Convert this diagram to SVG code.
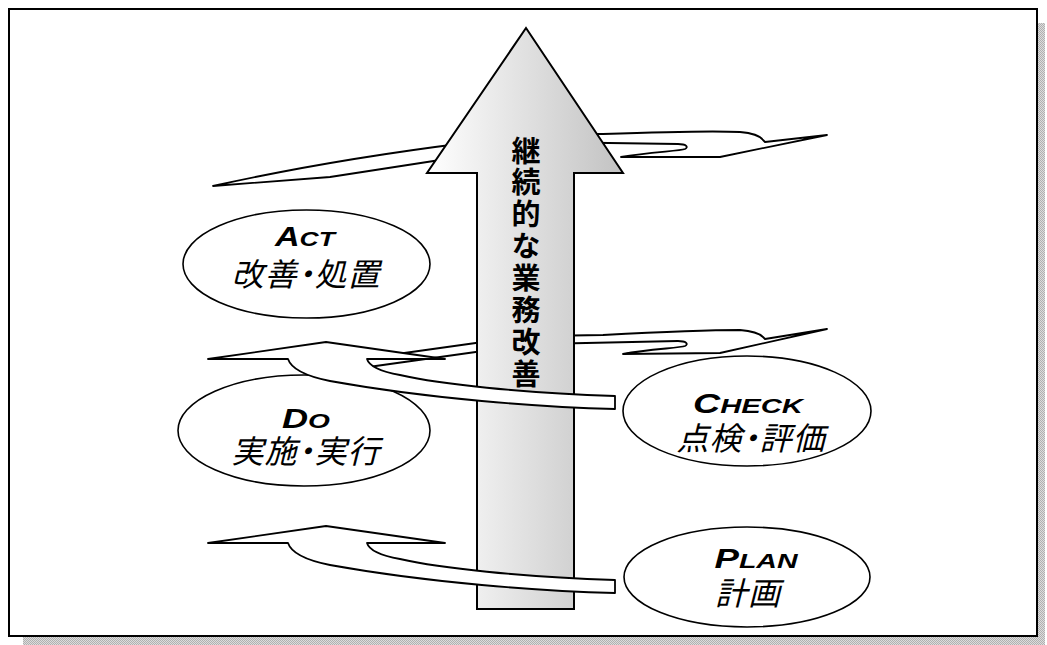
<svg xmlns="http://www.w3.org/2000/svg" width="1047" height="645" viewBox="0 0 1047 645">
<style>
.ln{fill:#fff;stroke:#000;stroke-width:1.8;stroke-linejoin:round}
.el{fill:#fff;stroke:#000;stroke-width:1.6}
.lat{font-family:"Liberation Sans",Arial,sans-serif;font-weight:bold;font-style:italic;font-size:27px;fill:#000;text-anchor:middle}
.sm{font-size:21px}
.jp{font-family:"Noto Sans CJK JP","Noto Sans CJK SC",sans-serif;font-style:italic;font-size:32px;fill:#000;text-anchor:middle;font-feature-settings:"palt";letter-spacing:1px}
.vt{font-family:"Noto Sans CJK JP","Noto Sans CJK SC",sans-serif;font-weight:bold;font-size:29px;fill:#000;writing-mode:vertical-rl;letter-spacing:2.9px}
</style>
<defs>
<linearGradient id="g" gradientUnits="userSpaceOnUse" x1="427" y1="0" x2="623" y2="0">
<stop offset="0" stop-color="#ffffff"/><stop offset="1" stop-color="#c2c2c2"/>
</linearGradient>
<pattern id="hatch" width="2" height="2" patternUnits="userSpaceOnUse">
<rect width="2" height="2" fill="#dcdcdc"/><rect width="1" height="1" fill="#b0b0b0"/><rect x="1" y="1" width="1" height="1" fill="#b0b0b0"/>
</pattern>
</defs>
<rect width="1047" height="645" fill="#fff"/>
<g id="frame">
<rect x="23" y="637" width="1022" height="8" fill="url(#hatch)"/>
<rect x="1038" y="23" width="7" height="622" fill="url(#hatch)"/>
<rect x="9" y="9" width="1028" height="627" fill="#fff" stroke="#000" stroke-width="2"/>
</g>
<g id="connectors-back">
<path class="ln" d="M 213,186 Q 330,160 466,143 L 466,156 L 330,177 Z"/>
<path class="ln" d="M 540,134 L 603,134 C 660,132 720,131 740,132 C 752,133 760,136 763,140 L 765,142 L 827,135 L 720,157 L 621,157 C 650,152 680,151 685,149 C 689,147 686,144 678,144 L 540,142 Z"/>
<path class="ln" d="M 340,362 L 490,341 L 490,350 L 340,371 Z"/>
<path class="ln" d="M 540,336 L 603,335 C 660,332 720,330 740,330 C 752,331 760,334 763,337 L 765,339 L 827,329 L 720,353 L 623,354 C 650,349 680,348 685,346 C 689,344 686,341 678,341 L 540,344 Z"/>
</g>
<g id="main-arrow">
<path d="M 526,28 L 623,173 L 574,173 L 574,609 L 477,609 L 477,173 L 427,173 Z" fill="url(#g)" stroke="#000" stroke-width="2" stroke-linejoin="miter"/>
<text class="vt" x="526" y="136">継続的な業務改善</text>
</g>
<g id="act">
<ellipse class="el" cx="306.5" cy="264" rx="123.5" ry="54"/>
<text class="lat" x="305" y="246" textLength="60" lengthAdjust="spacingAndGlyphs">A<tspan class="sm">CT</tspan></text>
<text class="jp" x="306" y="286">改善・処置</text>
</g>
<g id="do">
<ellipse class="el" cx="304" cy="430.5" rx="126" ry="55.5"/>
<text class="lat" x="306" y="428" textLength="48" lengthAdjust="spacingAndGlyphs">D<tspan class="sm">O</tspan></text>
<text class="jp" x="306" y="463">実施・実行</text>
</g>
<g id="check">
<ellipse class="el" cx="747" cy="411" rx="124" ry="55"/>
<text class="lat" x="748" y="413" textLength="110" lengthAdjust="spacingAndGlyphs">C<tspan class="sm">HECK</tspan></text>
<text class="jp" x="751" y="450">点検・評価</text>
</g>
<g id="plan">
<ellipse class="el" cx="747" cy="577" rx="123" ry="50"/>
<text class="lat" x="756" y="568" textLength="83" lengthAdjust="spacingAndGlyphs">P<tspan class="sm">LAN</tspan></text>
<text class="jp" x="748" y="605">計画</text>
</g>
<g id="connectors-front">
<path class="ln" d="M 208,359 L 326,342 L 445,359 L 367,359 C 369,366 378,371 400,375 C 440,384 520,393 615,396 L 615,409 C 540,407 430,399 330,381 C 305,376 291,368 288,359 Z"/>
<path class="ln" transform="translate(0,184)" d="M 208,359 L 326,342 L 445,359 L 367,359 C 369,366 378,371 400,375 C 440,384 520,393 615,396 L 615,409 C 540,407 430,399 330,381 C 305,376 291,368 288,359 Z"/>
</g>
</svg>
